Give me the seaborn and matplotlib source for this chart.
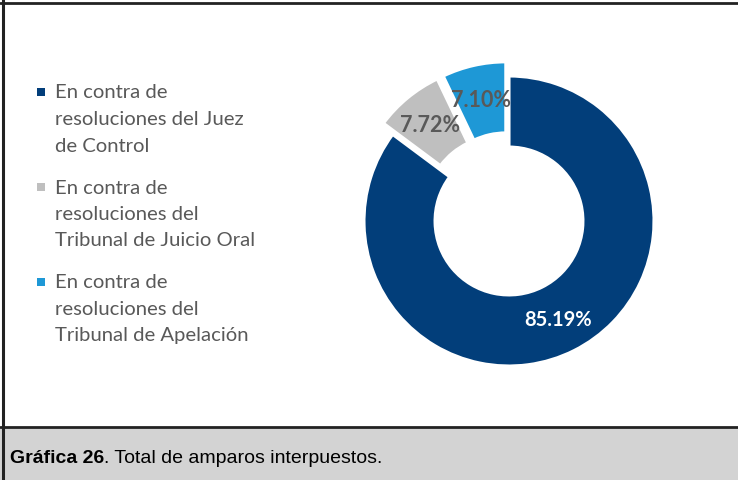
import matplotlib
matplotlib.use("Agg")
import matplotlib.pyplot as plt
import seaborn as sns
from matplotlib.patches import Rectangle
from matplotlib.lines import Line2D

sns.set_theme(style="white")
plt.rcParams['font.family'] = ['Lato', 'DejaVu Sans']

# data
categories = ['En contra de\nresoluciones del Juez\nde Control',
              'En contra de\nresoluciones del\nTribunal de Juicio Oral',
              'En contra de\nresoluciones del\nTribunal de Apelación']
percentages = [85.19, 7.72, 7.10]
colors = ['#023E7A', '#BFBFBF', '#1E98D6']
explode = [0, 0.1, 0.1]
caption_bold = 'Gráfica 26'
caption_rest = '. Total de amparos interpuestos.'

W, H = 738, 481
fig = plt.figure(figsize=(W / 100, H / 100), dpi=100)

# frame and caption band
fig.add_artist(Rectangle((0, 0), 1, (H - 428) / H, transform=fig.transFigure,
                         facecolor='#D3D3D3', edgecolor='none'))
for y in [H - 4, H - 427.5]:
    fig.add_artist(Line2D([0, 1], [y / H, y / H], transform=fig.transFigure,
                          color='#222222', lw=2.0))
fig.add_artist(Line2D([3 / W, 3 / W], [0, 1], transform=fig.transFigure,
                      color='#222222', lw=2.2))

# donut
cx, cy, R = 509, H - 222, 145
side = 360
L = side / (2 * R)
ax = fig.add_axes([(cx - side / 2) / W, (cy - side / 2) / H, side / W, side / H])
total = sum(percentages)
wedges, texts, autotexts = ax.pie(
    percentages, colors=colors, explode=explode, startangle=90, counterclock=False,
    autopct=lambda p: f"{p * total / 100:.2f}%", pctdistance=0.76,
    wedgeprops=dict(width=0.49, edgecolor='white', linewidth=2.2))
for i, t in enumerate(autotexts):
    t.set_fontsize(14.5 if i == 0 else 15.5)
    t.set_fontweight('bold')
    t.set_color('white' if i == 0 else '#595959')
ax.set_xlim(-L, L)
ax.set_ylim(-L, L)
ax.axis('off')

# legend
y0 = 93
for i, (lab, col) in enumerate(zip(categories, colors)):
    top = y0 + i * 95
    fig.add_artist(Rectangle(((37) / W, (H - top - 4) / H), 8 / W, 8 / H,
                             transform=fig.transFigure, facecolor=col, edgecolor='none'))
    for j, line in enumerate(lab.split('\n')):
        fig.text(55 / W, (H - top - j * 26.5) / H, line, fontsize=14.6,
                 color='#595959', va='center', ha='left')

# caption
t1 = fig.text(10 / W, (H - 459) / H, caption_bold, fontsize=14, fontweight='bold',
              family='Liberation Sans', color='black', va='center', ha='left')
fig.canvas.draw()
bb = t1.get_window_extent()
fig.text(bb.x1 / W, (H - 459) / H, caption_rest, fontsize=14,
         family='Liberation Sans', color='black', va='center', ha='left')

fig.savefig('out.png', dpi=100)
